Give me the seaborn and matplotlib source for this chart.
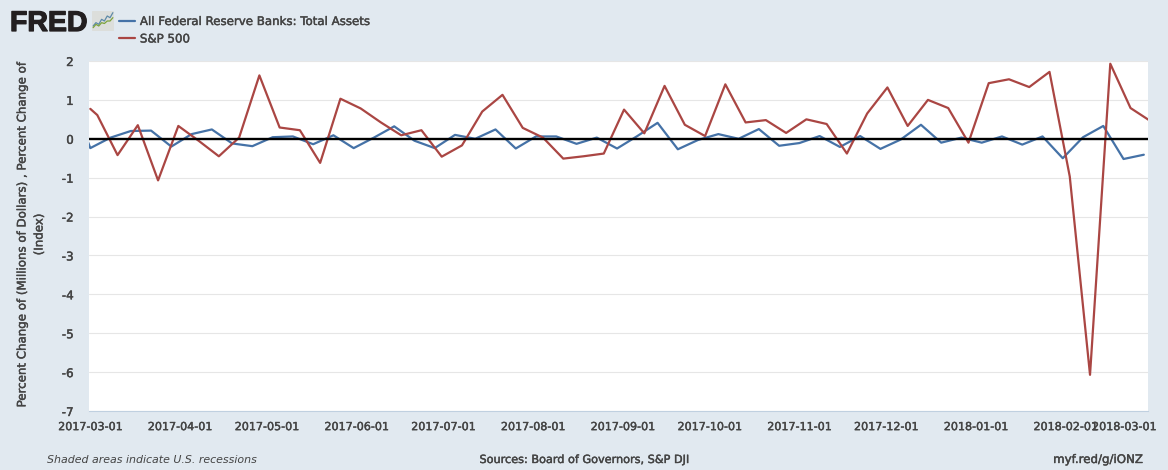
import pandas as pd
import matplotlib
matplotlib.use('Agg')
import matplotlib.pyplot as plt
import matplotlib.dates as mdates
import matplotlib.patheffects as pe
from matplotlib.patches import FancyBboxPatch
from matplotlib.transforms import ScaledTranslation
import seaborn as sns

# =========================
# DATA
# =========================

assets_label = "All Federal Reserve Banks: Total Assets"
sp500_label = "S&P 500"

# weekly, Wednesdays
assets_first_date = "2017-02-28"
assets_first = -0.04
assets_start = "2017-03-01"
assets_values = [
    -0.24, 0.03, 0.20, 0.21, -0.20, 0.12, 0.24, -0.12, -0.19, 0.04,
    0.06, -0.14, 0.09, -0.24, 0.03, 0.32, -0.05, -0.24, 0.10, 0.00,
    0.24, -0.25, 0.06, 0.06, -0.13, 0.03, -0.25, 0.07, 0.41, -0.27,
    -0.03, 0.12, 0.00, 0.25, -0.18, -0.11, 0.07, -0.21, 0.07, -0.26,
    -0.02, 0.36, -0.10, 0.03, -0.10, 0.06, -0.15, 0.06, -0.50, 0.04,
    0.33, -0.52, -0.41,
]

# weekly, Fridays
sp500_first_date = "2017-03-01"
sp500_first = 0.77
sp500_start = "2017-03-03 10:00"
sp500_values = [
    0.61, -0.42, 0.35, -1.07, 0.33, -0.05, -0.45, 0.03, 1.63, 0.29,
    0.22, -0.62, 1.03, 0.78, 0.42, 0.09, 0.22, -0.46, -0.17, 0.70,
    1.13, 0.28, 0.03, -0.51, -0.45, -0.38, 0.75, 0.14, 1.36, 0.36,
    0.07, 1.40, 0.42, 0.48, 0.15, 0.50, 0.38, -0.38, 0.65, 1.32,
    0.33, 1.00, 0.79, -0.10, 1.43, 1.53, 1.33, 1.72, -0.97, -6.07,
    1.93, 0.79, 0.45,
]

tick_dates = [
    "2017-03-01", "2017-04-01", "2017-05-01", "2017-06-01", "2017-07-01",
    "2017-08-01", "2017-09-01", "2017-10-01", "2017-11-01", "2017-12-01",
    "2018-01-01", "2018-02-01", "2018-03-01",
]
y_ticks = [2, 1, 0, -1, -2, -3, -4, -5, -6, -7]
y_label = "Percent Change of (Millions of Dollars) , Percent Change of\n(Index)"

icon_blue = [1, 3, 2, 5, 4, 7, 6, 9]
icon_green = [0, 2, 1, 3, 2.5, 4, 4, 6]

# =========================
# STYLE
# =========================

BG = '#e1e9f0'
BLUE = '#4572a7'
RED = '#aa4643'
TEXT = '#444444'
W, H = 1168, 470

sns.set_theme(style='white')
plt.rcParams['font.family'] = 'DejaVu Sans'

fig = plt.figure(figsize=(W / 100, H / 100), dpi=100, facecolor=BG)
ax = fig.add_axes([89 / W, 1 - 411 / H, (1148 - 89) / W, 350 / H], facecolor='white')

semi = [pe.withStroke(linewidth=0.3, foreground=TEXT)]

# =========================
# LINES
# =========================

assets_dates = pd.DatetimeIndex([pd.Timestamp(assets_first_date)]).append(
    pd.date_range(assets_start, periods=len(assets_values), freq='7D'))
sp500_dates = pd.DatetimeIndex([pd.Timestamp(sp500_first_date)]).append(
    pd.date_range(sp500_start, periods=len(sp500_values), freq='7D'))

sns.lineplot(x=assets_dates, y=[assets_first] + assets_values, color=BLUE, linewidth=1.6,
             label=assets_label, ax=ax, zorder=3)
sns.lineplot(x=sp500_dates, y=[sp500_first] + sp500_values, color=RED, linewidth=1.6,
             label=sp500_label, ax=ax, zorder=3)
ax.axhline(0, color='black', linewidth=1.7, zorder=4)

# =========================
# AXES
# =========================

day_px = (1146.7 - 90.3) / 365
start = mdates.date2num(pd.Timestamp("2017-03-01"))
ax.set_xlim(start - (90.3 - 89) / day_px, start + (1148 - 90.3) / day_px)
ax.set_ylim(-7, 2)

ax.set_yticks(y_ticks)
ax.set_yticklabels([str(v) for v in y_ticks])
ax.set_xticks(mdates.date2num(pd.to_datetime(tick_dates)))
ax.set_xticklabels(tick_dates)
ax.grid(axis='y', color='#e6e6e6', linewidth=0.8)
ax.set_axisbelow(True)

for side in ['top', 'left', 'right']:
    ax.spines[side].set_visible(False)
ax.spines['bottom'].set_color('#c0d0e0')
ax.spines['bottom'].set_linewidth(0.8)

ax.tick_params(axis='x', length=7, width=0.7, color='#c0d0e0', pad=1,
               labelsize=8.0, labelcolor=TEXT)
ax.tick_params(axis='y', length=0, pad=11, labelsize=8.6, labelcolor=TEXT)
for lab in ax.get_xticklabels() + ax.get_yticklabels():
    lab.set_path_effects(semi)

# last label is pushed left so it stays on the chart
last = ax.get_xticklabels()[-1]
last.set_transform(last.get_transform() + ScaledTranslation(-22.5 / 100, 0, fig.dpi_scale_trans))

ax.set_xlabel('')
fig.text(30.5 / W, 1 - 234.5 / H, y_label, rotation=90, ha='center', va='center',
         multialignment='center', fontsize=8.5, color=TEXT, linespacing=1.4,
         path_effects=semi)

# =========================
# LEGEND
# =========================

leg = ax.legend(loc='upper left', bbox_to_anchor=(119 / W, 1 - 15 / H),
                bbox_transform=fig.transFigure, frameon=False, fontsize=8.5,
                handlelength=1.35, handletextpad=0.42, labelspacing=0.38,
                borderpad=0, borderaxespad=0)
for t in leg.get_texts():
    t.set_color(TEXT)
    t.set_path_effects(semi)

# =========================
# LOGO
# =========================

fig.text(10 / W, 1 - 31 / H, "FRED", family='Liberation Sans', weight='bold',
         fontsize=20.5, color='#231f20', ha='left', va='baseline',
         path_effects=[pe.withStroke(linewidth=0.9, foreground='#231f20')])

icon = fig.add_axes([92 / W, 1 - 31 / H, 22 / W, 20 / H])
icon.set_axis_off()
icon.set_xlim(-0.4, 7.4)
icon.set_ylim(-2, 10)
icon.add_patch(FancyBboxPatch((-0.4, -2), 7.8, 12, boxstyle='round,pad=0,rounding_size=0.4',
                              facecolor='#dcdedb', edgecolor='none'))
sns.lineplot(x=list(range(8)), y=icon_blue, color='#5d8aa8', linewidth=0.9, ax=icon)
sns.lineplot(x=list(range(8)), y=icon_green, color='#7da33c', linewidth=0.9, ax=icon)

# =========================
# FOOTER
# =========================

foot = dict(color=TEXT, va='baseline')
fig.text(47 / W, 1 - 463 / H, "Shaded areas indicate U.S. recessions", style='italic',
         ha='left', fontsize=7.95, **foot)
fig.text(584.5 / W, 1 - 463 / H, "Sources: Board of Governors, S&P DJI", ha='center',
         fontsize=8.1, path_effects=semi, **foot)
fig.text(1143 / W, 1 - 463 / H, "myf.red/g/iONZ", ha='right', fontsize=8.5,
         path_effects=semi, **foot)

plt.savefig('out.png', dpi=100, facecolor=BG)
